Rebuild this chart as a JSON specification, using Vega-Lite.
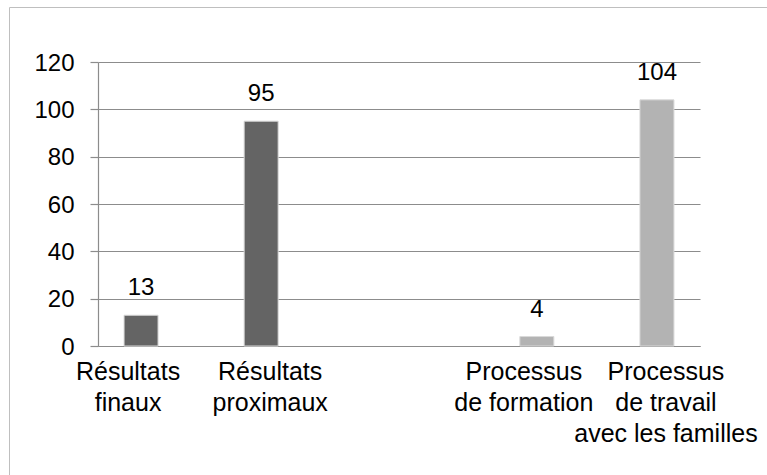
{
  "$schema": "https://vega.github.io/schema/vega-lite/v6.json",
  "autosize": {"type": "none"},
  "padding": {"left": 98, "top": 62, "right": 67, "bottom": 129},
  "width": 602,
  "height": 284,
  "background": "white",
  "config": {"view": {"stroke": null}, "font": "Liberation Sans"},
  "data": {
    "values": [
      {"group": "Résultats", "item": "Résultats finaux", "label": "Résultats\nfinaux", "value": 13},
      {"group": "Résultats", "item": "Résultats proximaux", "label": "Résultats\nproximaux", "value": 95},
      {"group": "Processus", "item": "Processus de formation", "label": "Processus\nde formation", "value": 4},
      {"group": "Processus", "item": "Processus de travail avec les familles", "label": "Processus\nde travail\navec les familles", "value": 104}
    ]
  },
  "encoding": {
    "x": {
      "field": "group",
      "type": "nominal",
      "sort": ["Résultats", "Processus"],
      "scale": {"paddingInner": 0.207, "paddingOuter": 0},
      "axis": {"labels": false, "ticks": false, "title": null, "domainColor": "#8c8c8c", "domainWidth": 1.2}
    },
    "xOffset": {
      "field": "item",
      "type": "nominal",
      "scale": {
        "domain": ["Résultats finaux", "Processus de formation", "Résultats proximaux", "Processus de travail avec les familles"],
        "paddingOuter": 0.217,
        "paddingInner": 0
      }
    },
    "y": {
      "field": "value",
      "type": "quantitative",
      "scale": {"domain": [0, 120], "nice": false},
      "axis": {
        "values": [0, 20, 40, 60, 80, 100, 120],
        "title": null,
        "grid": true,
        "gridColor": "#8c8c8c",
        "gridWidth": 1.2,
        "domainColor": "#8c8c8c",
        "domainWidth": 1.2,
        "tickColor": "#8c8c8c",
        "tickWidth": 1.2,
        "tickSize": 8,
        "labelFontSize": 24,
        "labelColor": "#000000",
        "labelPadding": 16,
        "labelOffset": 1,
        "labelFont": "Liberation Sans"
      }
    }
  },
  "layer": [
    {
      "mark": {"type": "bar", "width": 34, "stroke": "#d9d9d9", "strokeWidth": 1},
      "encoding": {
        "color": {
          "field": "group",
          "type": "nominal",
          "scale": {"domain": ["Résultats", "Processus"], "range": ["#646464", "#b3b3b3"]},
          "legend": null
        }
      }
    },
    {
      "mark": {"type": "text", "dy": -20, "baseline": "alphabetic", "fontSize": 24, "color": "#000000"},
      "encoding": {
        "text": {"field": "value", "type": "quantitative"},
        "stroke": {
          "field": "value",
          "type": "quantitative",
          "scale": {"range": ["rgba(0,0,0,0)", "rgba(0,0,0,0)"]},
          "legend": {
            "orient": "none",
            "legendX": -89,
            "legendY": -55,
            "direction": "horizontal",
            "gradientLength": 780,
            "gradientThickness": 480,
            "gradientStrokeWidth": 0,
            "title": null,
            "labelExpr": "''",
            "labelFontSize": 1,
            "padding": 0,
            "offset": 0,
            "strokeColor": "#bfbfbf"
          }
        }
      }
    },
    {
      "transform": [{"filter": {"field": "item", "oneOf": ["Résultats finaux", "Processus de formation"]}}],
      "mark": {"type": "text", "baseline": "top", "dy": 14, "dx": -13, "fontSize": 25, "lineBreak": "\n", "lineHeight": 31, "color": "#000000"},
      "encoding": {"y": {"datum": 0}, "text": {"field": "label", "type": "nominal"}}
    },
    {
      "transform": [{"filter": {"field": "item", "oneOf": ["Résultats proximaux", "Processus de travail avec les familles"]}}],
      "mark": {"type": "text", "baseline": "top", "dy": 14, "dx": 9, "fontSize": 25, "lineBreak": "\n", "lineHeight": 31, "color": "#000000"},
      "encoding": {"y": {"datum": 0}, "text": {"field": "label", "type": "nominal"}}
    }
  ]
}
